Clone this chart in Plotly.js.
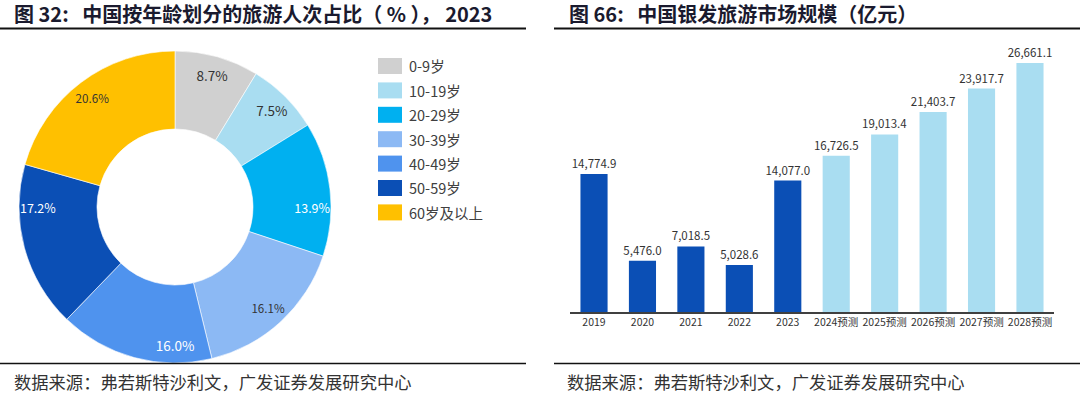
<!DOCTYPE html>
<html>
<head>
<meta charset="utf-8">
<script src="https://cdn.plot.ly/plotly-3.0.1.min.js"></script>
<style>html,body{margin:0;padding:0;background:#fff;}#chart{width:1080px;height:396px;}</style>
</head>
<body>
<div id="chart"></div>
<script>
// ---- Data: left donut ----
const ageGroups = ['0-9岁', '10-19岁', '20-29岁', '30-39岁', '40-49岁', '50-59岁', '60岁及以上'];
const agePercents = [8.7, 7.5, 13.9, 16.1, 16.0, 17.2, 20.6];
const ageColors = ['#D0D0D0', '#A9DDF1', '#00B0F0', '#8CB9F4', '#4F93EE', '#0B4FB5', '#FFC000'];
const ageTextColors = ['#333333', '#333333', '#FFFFFF', '#333333', '#FFFFFF', '#FFFFFF', '#333333'];

// ---- Data: right bars ----
const years = ['2019', '2020', '2021', '2022', '2023', '2024预测', '2025预测', '2026预测', '2027预测', '2028预测'];
const marketSize = [14774.9, 5476.0, 7018.5, 5028.6, 14077.0, 16726.5, 19013.4, 21403.7, 23917.7, 26661.1];
const barColors = ['#0B4FB5', '#0B4FB5', '#0B4FB5', '#0B4FB5', '#0B4FB5', '#A9DDF1', '#A9DDF1', '#A9DDF1', '#A9DDF1', '#A9DDF1'];

// ---- Text ----
const leftTitle = '图 32:   中国按年龄划分的旅游人次占比（ % ）， 2023';
const rightTitle = '图 66:   中国银发旅游市场规模（亿元）';
const sourceText = '数据来源：弗若斯特沙利文，广发证券发展研究中心';

const W = 1080, H = 396;
const px = v => v / W;
const py = v => 1 - v / H;

const CJK = '"Noto Sans CJK SC", "Noto Sans", sans-serif';
const NARROW = '"Liberation Sans Narrow", "Noto Sans CJK SC", sans-serif';

const pieDomain = {x: [px(175 - 157), px(175 + 157)], y: [py(207 + 156), py(207 - 156)]};

const traces = [
  {
    type: 'pie',
    values: agePercents,
    labels: ageGroups,
    sort: false,
    direction: 'clockwise',
    rotation: 0,
    hole: 0.5,
    domain: pieDomain,
    marker: {colors: ageColors, line: {color: '#FFFFFF', width: 0.6}},
    textinfo: 'none',
    showlegend: false,
    hoverinfo: 'label+value'
  },
  {
    type: 'pie',
    values: agePercents,
    labels: ageGroups,
    sort: false,
    direction: 'clockwise',
    rotation: 0,
    hole: 0.76,
    domain: pieDomain,
    marker: {colors: ageColors.map(() => 'rgba(0,0,0,0)'), line: {width: 0}},
    texttemplate: '%{value:.1f}%',
    textposition: 'inside',
    insidetextorientation: 'horizontal',
    insidetextfont: {family: CJK, size: 13.5, color: ageTextColors},
    showlegend: false,
    hoverinfo: 'skip'
  },
  {
    type: 'bar',
    x: years,
    y: marketSize,
    marker: {color: barColors},
    texttemplate: '%{y:,.1f}',
    textposition: 'outside',
    constraintext: 'none',
    cliponaxis: false,
    textfont: {family: NARROW, size: 11.5, color: '#333333'},
    showlegend: false,
    xaxis: 'x',
    yaxis: 'y'
  }
];

const shapes = [
  {type: 'line', xref: 'paper', yref: 'paper', x0: 0, x1: px(526), y0: py(28.5), y1: py(28.5), line: {color: '#111111', width: 2}},
  {type: 'line', xref: 'paper', yref: 'paper', x0: px(554), x1: 1, y0: py(28.5), y1: py(28.5), line: {color: '#111111', width: 2}},
  {type: 'line', xref: 'paper', yref: 'paper', x0: 0, x1: px(526), y0: py(363.5), y1: py(363.5), line: {color: '#111111', width: 1.5}},
  {type: 'line', xref: 'paper', yref: 'paper', x0: px(554), x1: 1, y0: py(363.5), y1: py(363.5), line: {color: '#111111', width: 1.5}}
];

const annotations = [
  {text: leftTitle, xref: 'paper', yref: 'paper', x: px(12), y: py(13), xanchor: 'left', yanchor: 'middle', showarrow: false,
   font: {family: CJK, size: 20, color: '#1A1A2E', weight: 'bold'}},
  {text: rightTitle, xref: 'paper', yref: 'paper', x: px(567), y: py(13), xanchor: 'left', yanchor: 'middle', showarrow: false,
   font: {family: CJK, size: 20, color: '#1A1A2E', weight: 'bold'}},
  {text: sourceText, xref: 'paper', yref: 'paper', x: px(12), y: py(381), xanchor: 'left', yanchor: 'middle', showarrow: false,
   font: {family: CJK, size: 17.3, color: '#333333'}},
  {text: sourceText, xref: 'paper', yref: 'paper', x: px(565), y: py(381), xanchor: 'left', yanchor: 'middle', showarrow: false,
   font: {family: CJK, size: 17.3, color: '#333333'}}
];

// custom legend for the donut (built from the category arrays)
ageGroups.forEach((g, i) => {
  const cy = 66 + 24.4 * i;
  shapes.push({type: 'rect', xref: 'paper', yref: 'paper', x0: px(378), x1: px(402), y0: py(cy + 8), y1: py(cy - 8),
    fillcolor: ageColors[i], line: {width: 0}});
  annotations.push({text: g, xref: 'paper', yref: 'paper', x: px(407), y: py(cy), xanchor: 'left', yanchor: 'middle',
    showarrow: false, font: {family: CJK, size: 14.5, color: '#404040'}});
});

const layout = {
  width: W, height: H,
  margin: {l: 0, r: 0, t: 0, b: 0},
  paper_bgcolor: '#FFFFFF',
  plot_bgcolor: 'rgba(0,0,0,0)',
  showlegend: false,
  bargap: 0.44,
  xaxis: {
    domain: [px(569.8), px(1054.2)],
    anchor: 'y',
    type: 'category',
    showline: true, linecolor: '#404040', linewidth: 1.5,
    ticks: '', showgrid: false, zeroline: false,
    tickfont: {family: NARROW, size: 10.5, color: '#333333'},
    fixedrange: true
  },
  yaxis: {
    domain: [py(312), py(40)],
    anchor: 'x',
    range: [0, 26661.1 * 272 / 249],
    visible: false,
    showgrid: false, zeroline: false,
    fixedrange: true
  },
  shapes: shapes,
  annotations: annotations
};

Plotly.newPlot('chart', traces, layout, {displayModeBar: false, staticPlot: true});
</script>
</body>
</html>
